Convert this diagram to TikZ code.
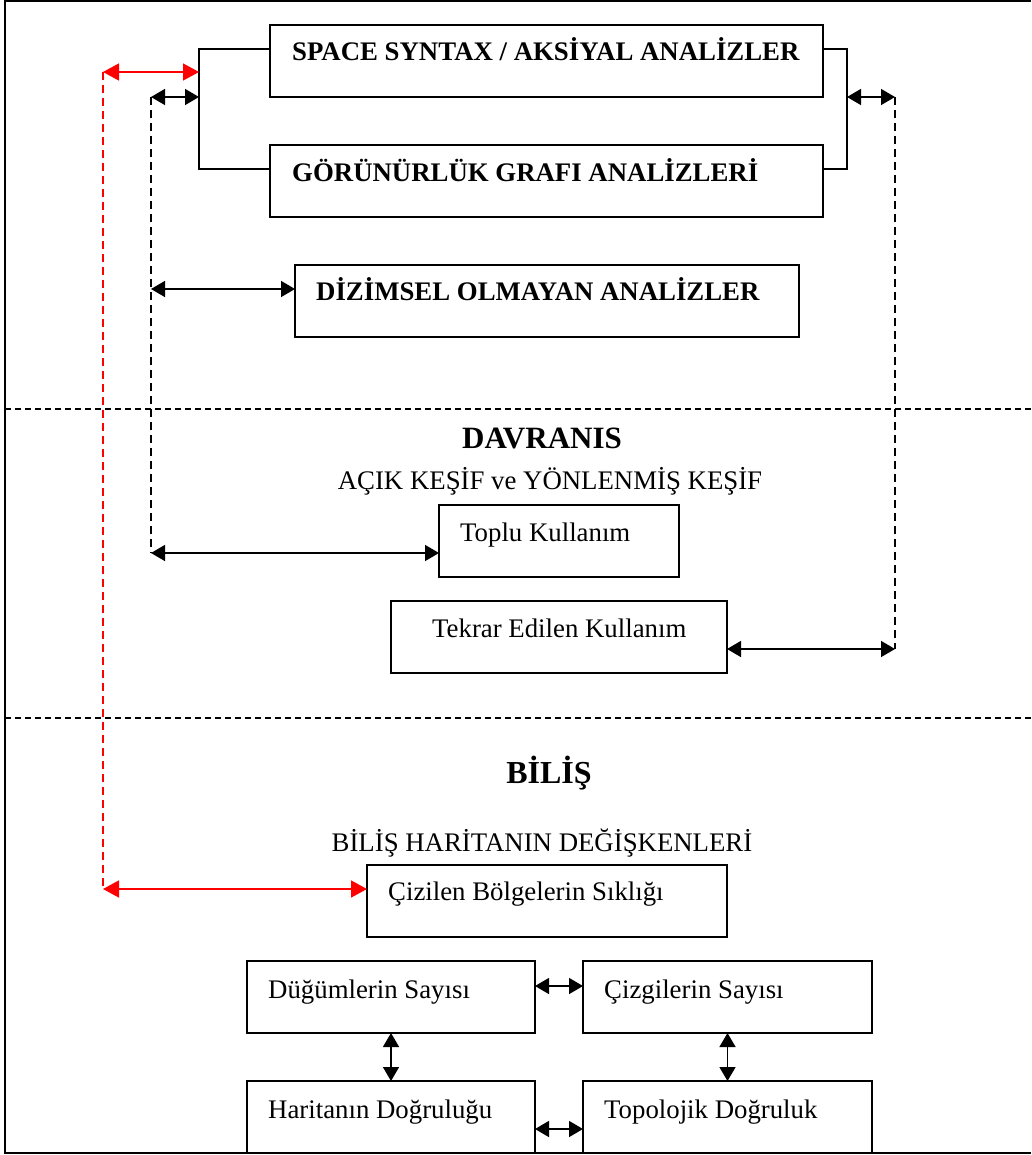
\documentclass[tikz,border=0pt]{standalone}
\usepackage{fontspec}
\setmainfont{Liberation Serif}
\usetikzlibrary{arrows.meta,calc}
\begin{document}
\begin{tikzpicture}[x=1pt,y=-1pt,
  box/.style={draw, line width=1.5pt, inner sep=0pt, outer sep=0pt, anchor=north west, minimum height=72pt},
  txt/.style={anchor=base west, inner sep=0pt, font=\fontsize{26.8pt}{30pt}\selectfont},
  btxt/.style={anchor=base west, inner sep=0pt, font=\fontsize{26.8pt}{30pt}\selectfont\bfseries},
  head/.style={anchor=base, inner sep=0pt, font=\fontsize{26.8pt}{30pt}\selectfont},
  conn/.style={line width=1.5pt},
  biarrow/.style={conn, {Triangle[length=14pt,width=16pt]}-{Triangle[length=14pt,width=16pt]}},
  redarrow/.style={conn, red, {Triangle[length=16pt,width=17pt]}-{Triangle[length=16pt,width=17pt]}},
  dashline/.style={line width=1.2pt, dash pattern=on 8pt off 5pt},
  sepline/.style={line width=1.3pt, dash pattern=on 6pt off 4pt}]
\useasboundingbox (0,0) rectangle (1031,1155);
\fill[white] (0,0) rectangle (1031,1155);

% outer frame (open on the right)
\draw[line width=1.5pt] (1031,1) -- (5,1) -- (5,1153) -- (1031,1153);

% section separators
\draw[sepline] (5,409) -- (1031,409);
\draw[sepline] (5,718) -- (1031,718);

% analysis boxes
\node[box, minimum width=553pt] (ss) at (270,25) {};
\node[btxt] (ssT) at (292,61) {SPACE SYNTAX / AKSİYAL ANALİZLER};
\node[box, minimum width=553pt] (vga) at (270,145) {};
\node[btxt] (vgaT) at (292,182) {GÖRÜNÜRLÜK GRAFI ANALİZLERİ};
\node[box, minimum width=504pt] (dz) at (295,265) {};
\node[btxt] (dzT) at (316,301) {DİZİMSEL OLMAYAN ANALİZLER};

% behaviour section
\node[head, font=\fontsize{31pt}{34pt}\selectfont\bfseries] (davT) at (542,448) {DAVRANIS};
\node[head] (kesifT) at (550,489) {AÇIK KEŞİF ve YÖNLENMİŞ KEŞİF};
\node[box, minimum width=240pt] (toplu) at (439,505) {};
\node[txt] (topluT) at (460,541) {Toplu Kullanım};
\node[box, minimum width=336pt] (tekrar) at (391,601) {};
\node[txt] (tekrarT) at (432,637) {Tekrar Edilen Kullanım};

% cognition section
\node[head, font=\fontsize{32pt}{36pt}\selectfont\bfseries] (bilT) at (549,783) {BİLİŞ};
\node[head] (degT) at (542,851) {BİLİŞ HARİTANIN DEĞİŞKENLERİ};
\node[box, minimum width=360pt] (cizilen) at (367,865) {};
\node[txt] (cizilenT) at (388,900) {Çizilen Bölgelerin Sıklığı};
\node[box, minimum width=288pt] (dug) at (247,961) {};
\node[txt] (dugT) at (268,998) {Düğümlerin Sayısı};
\node[box, minimum width=289pt] (ciz) at (583,961) {};
\node[txt] (cizT) at (604,998) {Çizgilerin Sayısı};
\node[box, minimum width=288pt] (har) at (247,1081) {};
\node[txt] (harT) at (268,1118) {Haritanın Doğruluğu};
\node[box, minimum width=289pt] (topo) at (583,1081) {};
\node[txt] (topoT) at (604,1118) {Topolojik Doğruluk};

% bracket joints and dashed line ends
\coordinate (lb1) at (199,49);
\coordinate (lb2) at (199,169);
\coordinate (rb1) at (847,49);
\coordinate (rb2) at (847,169);
\coordinate (rTop) at (103,72);
\coordinate (rBot) at (103,889);
\coordinate (kTop) at (151,97);
\coordinate (kMid) at (151,289);
\coordinate (kBot) at (151,553);
\coordinate (qTop) at (895,97);
\coordinate (qBot) at (895,649);

% brackets joining the two syntax boxes
\draw[conn] (ss.west |- lb1) -- (lb1) -- (lb2) -- (vga.west |- lb2);
\draw[conn] (ss.east |- rb1) -- (rb1) -- (rb2) -- (vga.east |- rb2);

% red link: syntax analyses to drawn regions
\draw[dashline, red] (rTop) -- (rBot);
\draw[redarrow] (rTop) -- (rTop -| lb1);
\draw[redarrow] (rBot) -- (rBot -| cizilen.west);

% left black link
\draw[dashline] (kTop) -- (kBot);
\draw[biarrow] (kTop) -- (kTop -| lb1);
\draw[biarrow] (kMid) -- (kMid -| dz.west);
\draw[biarrow] (kBot) -- (kBot -| toplu.west);

% right black link
\draw[dashline] (qTop) -- (qBot);
\draw[biarrow] (qTop -| rb1) -- (qTop);
\draw[biarrow] (qBot -| tekrar.east) -- (qBot);

% links between the map variables
\draw[biarrow] ($(dug.east)+(0,-11)$) -- ($(ciz.west)+(0,-11)$);
\draw[biarrow] ($(har.east)+(0,12)$) -- ($(topo.west)+(0,12)$);
\draw[biarrow] (dug.south) -- (har.north);
\draw[biarrow] (ciz.south) -- (topo.north);
\end{tikzpicture}
\end{document}
